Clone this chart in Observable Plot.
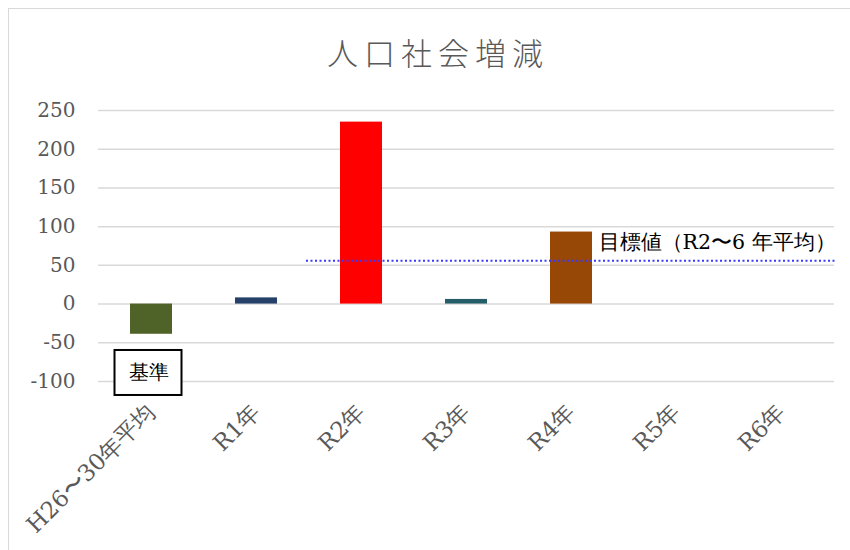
<!DOCTYPE html>
<html>
<head>
<meta charset="utf-8">
<script src="https://cdn.jsdelivr.net/npm/d3@7"></script>
<script src="https://cdn.jsdelivr.net/npm/@observablehq/plot@0.6"></script>
<style>
  html, body { margin: 0; padding: 0; background: #fff; }
  #wrap { position: relative; width: 850px; height: 550px; overflow: hidden; }
  #frame { position: absolute; left: 8px; top: 8px; width: 900px; height: 600px; border: 1.5px solid #d9d9d9; box-sizing: border-box; }
  #title { position: absolute; left: 0; top: 29px; width: 876px; text-align: center; font-family: "Noto Sans CJK JP", sans-serif; font-size: 31px; font-weight: 300; color: #595959; letter-spacing: 6px; }
  #chart { position: absolute; left: 0; top: 0; }
  #chart svg text { font-family: 'DejaVu Serif', 'Liberation Serif', serif !important; }
</style>
</head>
<body>
<div id="wrap">
  <div id="frame"></div>
  <div id="chart"></div>
  <div id="title">人口社会増減</div>
</div>
<script>
// ---- data ----
const categories = ["H26〜30年平均", "R1年", "R2年", "R3年", "R4年", "R5年", "R6年"];
const values = [-39, 8, 235, 6, 93, null, null];
const barColors = ["#4f6228", "#254069", "#ff0000", "#255e69", "#974706", "#cccccc", "#cccccc"];
const yTicks = [-100, -50, 0, 50, 100, 150, 200, 250];
const targetValue = 56;
const targetLabel = "目標値（R2〜6 年平均）";
const baseLabel = "基準";
const baseLabelY = -89;

const rows = categories.map((c, i) => ({cat: c, value: values[i]})).filter(d => d.value != null);

const chart = Plot.plot({
  width: 850,
  height: 550,
  marginLeft: 98,
  marginRight: 16,
  marginTop: 110,
  marginBottom: 169,
  style: {background: "transparent", overflow: "visible"},
  x: {domain: categories, paddingInner: 0.6, paddingOuter: 0.3, label: null},
  y: {domain: [-100, 250], label: null},
  color: {domain: categories, range: barColors},
  marks: [
    Plot.ruleY(yTicks, {stroke: "#d9d9d9", strokeWidth: 1.5}),
    Plot.barY(rows, {x: "cat", y: "value", fill: "cat"}),
    Plot.ruleY([targetValue], {x1: () => categories[2], x2: () => categories[6], y: d => d, stroke: "#3a3aff", strokeWidth: 2, strokeDasharray: "2,2.5", insetLeft: -34, insetRight: -34}),
    Plot.text([targetLabel], {x: () => categories[4], y: () => targetValue, text: d => d, textAnchor: "start", dx: 27, dy: -18, fontSize: 20.5, fill: "#000"}),
    Plot.barY([baseLabel], {x: () => categories[0], y1: () => baseLabelY, y2: () => baseLabelY, fill: "white", stroke: "black", strokeWidth: 2, insetLeft: -12.5, insetRight: -12.5, insetTop: -22.5, insetBottom: -22.5, dx: -3}),
    Plot.text([baseLabel], {x: () => categories[0], y: () => baseLabelY, text: d => d, fontSize: 20, dx: -3, fill: "#000"}),
    Plot.axisY({ticks: yTicks, tickSize: 0, tickPadding: 23, tickFormat: d => String(d), fontSize: 20, color: "#595959", label: null}),
    Plot.axisX({tickSize: 0, tickPadding: 27, tickRotate: -45, fontSize: 23, color: "#595959", label: null})
  ]
});
document.getElementById("chart").appendChild(chart);
</script>
</body>
</html>
